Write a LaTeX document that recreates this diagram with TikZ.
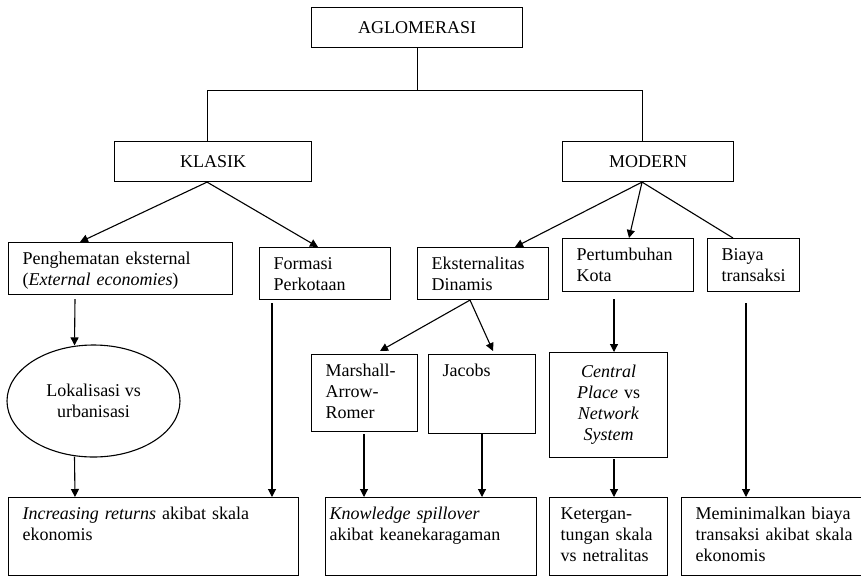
\documentclass[tikz,border=0pt]{standalone}
\usepackage{fontspec}
\setmainfont{Liberation Serif}
\usetikzlibrary{calc,arrows.meta,shapes.geometric}

\begin{document}
\begin{tikzpicture}[x=1pt, y=-1pt, line width=1.1pt,
  every node/.append style={font=\fontsize{18}{21}\selectfont},
  head/.style={draw, anchor=north west, minimum height=40pt, inner sep=0pt},
  cell/.style={draw, anchor=north west, align=left, inner xsep=14pt,
    inner ysep=0pt, text height=22pt},
  arr/.style={-{Triangle[length=8pt,width=8pt]}},
]
\useasboundingbox (0,0) rectangle (861,576);

% top of the tree
\node[head, minimum width=211pt] (agl) at (311,7) {AGLOMERASI};
\node[head, minimum width=197pt] (klasik) at (114,141) {KLASIK};
\node[head, minimum width=171pt] (modern) at (562,141) {MODERN};

\draw (agl.south) -- ++(0,42) coordinate (split);
\draw ([xshift=-6pt]klasik.north) |- (split) -| ([xshift=-6pt]modern.north);

% second row
\node[cell, text width=196pt, text depth=30pt] (hemat) at (8,242) {%
  Penghematan eksternal\\(\textit{External economies})};
\node[cell, text width=103pt, text depth=30pt] (formasi) at (259,247) {%
  Formasi\\Perkotaan};
\node[cell, text width=103pt, text depth=30pt] (eksdin) at (417,247) {%
  Eksternalitas\\Dinamis};
\node[cell, text width=103pt, text depth=31pt] (tumbuh) at (562,238) {%
  Pertumbuhan\\Kota};
\node[cell, text width=64pt, text depth=31pt] (biaya) at (707,238) {%
  Biaya\\transaksi};

% third row
\node[draw, ellipse, minimum width=173pt, minimum height=112pt, inner sep=0pt,
  align=center] (lokal) at (93.5,401) {Lokalisasi vs\\urbanisasi};
\node[cell, text width=78pt, text depth=55pt] (mar) at (311,354) {%
  Marshall-\\Arrow-\\Romer};
\node[cell, text width=79pt, text depth=57pt] (jacobs) at (428,354) {Jacobs};
\node[cell, align=center, text width=90pt, text height=25pt, text depth=80pt]
  (cplace) at (549,352) {%
  \textit{Central}\\\textit{Place} vs\\\textit{Network}\\\textit{System}};

% bottom row
\node[cell, text width=262pt, text depth=56pt] (incret) at (8,497) {%
  \textit{Increasing returns} akibat skala\\ekonomis};
\node[cell, inner xsep=4pt, text width=203pt, text depth=56pt] (knowsp)
  at (325,497) {%
  \textit{Knowledge spillover}\\akibat keanekaragaman};
\node[cell, inner xsep=11pt, text width=96pt, text depth=56pt] (ketg)
  at (549,497) {%
  Ketergan-\\tungan skala\\vs netralitas};
\node[cell, text width=162pt, text depth=56pt] (minbiaya) at (681,497) {%
  Meminimalkan biaya\\transaksi akibat skala\\ekonomis};

% connectors
\draw[arr] ([xshift=-6pt]klasik.south) -- ($(hemat.north west)+(72,0)$);
\draw[arr] ([xshift=-6pt]klasik.south) -- ($(formasi.north west)+(59,0)$);
\draw[arr] ([xshift=-6pt]modern.south) -- ($(eksdin.north west)+(98,0)$);
\draw[arr] ([xshift=-6pt]modern.south) -- ($(tumbuh.north west)+(67,0)$);
\draw ([xshift=-6pt]modern.south) -- ($(biaya.north west)+(26,0)$);

\draw[arr] ($(hemat.south west)+(67,4)$) -- ($(lokal.north)+(-19,1)$);
\draw[arr] ($(lokal.south)+(-19,-1)$) -- ($(incret.north west)+(67,0)$);
\draw[arr] ($(formasi.south west)+(13,3)$) -- ($(incret.north west)+(264,0)$);

\draw[arr] ($(eksdin.south west)+(53,0)$) -- ($(mar.north west)+(69,-3)$);
\draw[arr] ($(eksdin.south west)+(53,0)$) -- ($(jacobs.north west)+(65,-3)$);
\draw[arr] ($(mar.south west)+(53,2)$) -- ($(knowsp.north west)+(39,0)$);
\draw[arr] ($(jacobs.south west)+(54,0)$) -- ($(knowsp.north west)+(157,0)$);

\draw[arr] ($(tumbuh.south west)+(52,7)$) -- ($(cplace.north west)+(65,0)$);
\draw[arr] ($(cplace.south west)+(65,1)$) -- ($(ketg.north west)+(65,0)$);
\draw[arr] ($(biaya.south west)+(39,11)$) -- ($(minbiaya.north west)+(65,0)$);
\end{tikzpicture}
\end{document}
